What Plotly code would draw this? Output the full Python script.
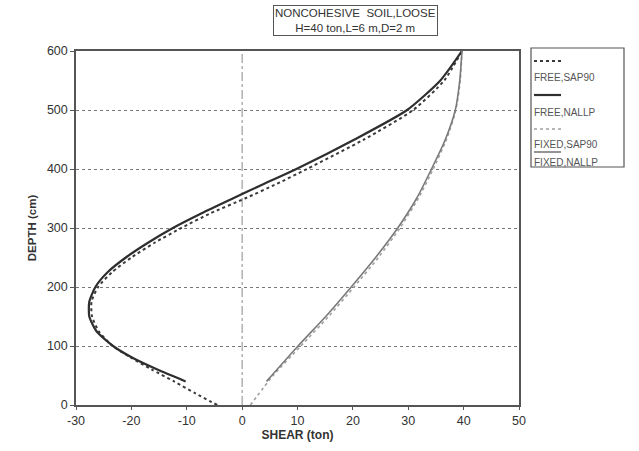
import plotly.graph_objects as go

# ---- data ----
free_sap90_depth = [0, 20, 40, 60, 80, 100, 125, 150, 175, 200, 225, 250, 275, 300, 325, 350, 375, 400, 450, 500, 550, 600]
free_sap90_shear = [-4.5, -8.5, -12.3, -16.3, -20.0, -23.4, -25.9, -27.1, -27.2, -26.0, -23.5, -20.0, -15.8, -11.0, -5.7, 0.5, 6.3, 11.7, 22.0, 30.9, 36.5, 39.7]

free_nallp_depth = [40, 60, 80, 100, 125, 150, 175, 200, 225, 250, 275, 300, 325, 350, 375, 400, 450, 500, 550, 600]
free_nallp_shear = [-10.2, -15.3, -19.8, -23.3, -26.3, -27.6, -27.6, -26.5, -24.3, -21.0, -17.0, -12.5, -7.3, -1.7, 4.0, 9.8, 20.3, 29.8, 35.8, 39.7]

fixed_sap90_depth = [0, 50, 100, 150, 200, 250, 300, 350, 400, 450, 500, 550, 600]
fixed_sap90_shear = [1.5, 5.6, 10.6, 15.6, 20.2, 24.6, 28.5, 31.8, 34.5, 36.9, 38.6, 39.4, 39.7]

fixed_nallp_depth = [40, 100, 150, 200, 250, 300, 350, 400, 450, 500, 550, 600]
fixed_nallp_shear = [4.4, 10.1, 15.1, 19.7, 24.1, 28.1, 31.5, 34.2, 36.7, 38.5, 39.3, 39.7]

x_ticks = [-30, -20, -10, 0, 10, 20, 30, 40, 50]
y_ticks = [0, 100, 200, 300, 400, 500, 600]

legend_names = ["FREE,SAP90", "FREE,NALLP", "FIXED,SAP90", "FIXED,NALLP"]
title_lines = ["NONCOHESIVE  SOIL,LOOSE", "H=40 ton,L=6 m,D=2 m"]

FONT = "Liberation Sans"
W, H = 639, 451
ML, MR, MT, MB = 76, 120, 51, 46
PW, PH = W - ML - MR, H - MT - MB

styles = [
    dict(color="#3a3a3a", width=2, dash="dot"),
    dict(color="#2e2e2e", width=2.2, dash="solid"),
    dict(color="#a0a0a0", width=1.6, dash="dot"),
    dict(color="#7a7a7a", width=1.6, dash="solid"),
]
series = [
    (free_sap90_shear, free_sap90_depth),
    (free_nallp_shear, free_nallp_depth),
    (fixed_sap90_shear, fixed_sap90_depth),
    (fixed_nallp_shear, fixed_nallp_depth),
]

fig = go.Figure()
for (xs, ys), name, st in zip(series, legend_names, styles):
    fig.add_trace(go.Scatter(x=xs, y=ys, mode="lines", name=name,
                             line=dict(shape="spline", smoothing=0.6, **st),
                             showlegend=False))

# vertical dash-dot line at shear = 0
fig.add_shape(type="line", xref="x", yref="y", x0=0, x1=0, y0=0, y1=600,
              line=dict(color="#8a8a8a", width=1, dash="dashdot"), layer="below")


def px2paper_x(px):
    return (px - ML) / PW


def px2paper_y(py):
    return (H - MB - py) / PH


# custom legend (symbol above text, as in the reference)
fig.add_shape(type="rect", xref="paper", yref="paper",
              x0=px2paper_x(531), x1=px2paper_x(624),
              y0=px2paper_y(167), y1=px2paper_y(48),
              line=dict(color="#555555", width=1.2))
sym_y = [61, 95, 129, 152]
txt_y = [77, 112, 144, 162]
for i, name in enumerate(legend_names):
    st = styles[i]
    fig.add_shape(type="line", xref="paper", yref="paper",
                  x0=px2paper_x(534), x1=px2paper_x(561),
                  y0=px2paper_y(sym_y[i]), y1=px2paper_y(sym_y[i]),
                  line=dict(color=st["color"], width=st["width"], dash=st["dash"]))
    fig.add_annotation(xref="paper", yref="paper", x=px2paper_x(532), y=px2paper_y(txt_y[i]),
                       text=name, showarrow=False, xanchor="left", yanchor="middle",
                       font=dict(family=FONT, size=10, color="#555555"))

# title box
fig.add_annotation(xref="paper", yref="paper", x=px2paper_x(355), y=px2paper_y(20),
                   text="<br>".join(title_lines), showarrow=False,
                   xanchor="center", yanchor="middle", align="center",
                   font=dict(family=FONT, size=11.5, color="#333333"),
                   bordercolor="#555555", borderwidth=1, borderpad=1,
                   bgcolor="white")

fig.update_layout(
    width=W, height=H,
    margin=dict(l=ML, r=MR, t=MT, b=MB),
    paper_bgcolor="white", plot_bgcolor="white",
    font=dict(family=FONT, size=12, color="#333333"),
    showlegend=False,
)
fig.update_xaxes(range=[-30, 50], tickvals=x_ticks, ticktext=[str(v) for v in x_ticks],
                 showgrid=False, zeroline=False,
                 showline=True, linecolor="#555555", linewidth=1.5, mirror=True,
                 ticks="outside", ticklen=3, tickcolor="#555555",
                 tickfont=dict(family=FONT, size=12.5, color="#333333"),
                 title=dict(text="<b>SHEAR (ton)</b>", standoff=4,
                            font=dict(family=FONT, size=12, color="#333333")))
fig.update_yaxes(range=[0, 600], tickvals=y_ticks, ticktext=[str(v) for v in y_ticks],
                 showgrid=True, gridcolor="#777777", gridwidth=1, griddash="dot",
                 zeroline=False,
                 showline=True, linecolor="#555555", linewidth=1.5, mirror=True,
                 ticks="outside", ticklen=4, tickcolor="#555555",
                 tickfont=dict(family=FONT, size=12.5, color="#333333"),
                 title=dict(text="<b>DEPTH (cm)</b>", standoff=8,
                            font=dict(family=FONT, size=11.5, color="#333333")))

fig.write_html("out.html")
